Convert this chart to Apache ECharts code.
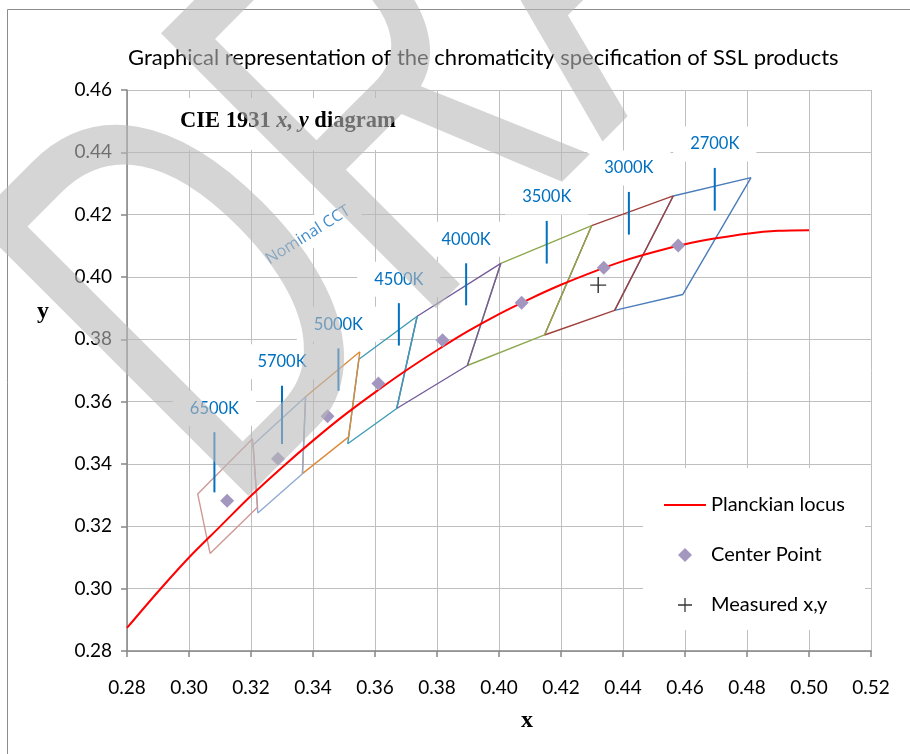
<!DOCTYPE html>
<html>
<head>
<meta charset="utf-8">
<script src="https://cdn.jsdelivr.net/npm/echarts@6/dist/echarts.min.js"></script>
<style>
html,body{margin:0;padding:0;background:#fff;}
#chart{width:910px;height:754px;}
</style>
</head>
<body>
<div id="chart"></div>
<script>
// ---- data ----
const planckX = [0.28,0.29,0.30,0.31,0.32,0.33,0.34,0.35,0.36,0.37,0.38,0.39,0.40,0.41,0.42,0.43,0.44,0.45,0.46,0.47,0.48,0.49,0.50];
const planckY = [0.2874,0.2990,0.3100,0.3199,0.3298,0.3389,0.3475,0.3556,0.3630,0.3700,0.3765,0.3826,0.3881,0.3930,0.3975,0.4015,0.4051,0.4080,0.4105,0.4124,0.4139,0.4148,0.4150];

const cctNames = ['2700K','3000K','3500K','4000K','4500K','5000K','5700K','6500K'];
const quad2700 = [[0.4813,0.4319],[0.4562,0.4260],[0.4373,0.3893],[0.4593,0.3944]];
const quad3000 = [[0.4562,0.4260],[0.4299,0.4165],[0.4147,0.3814],[0.4373,0.3893]];
const quad3500 = [[0.4299,0.4165],[0.4006,0.4044],[0.3898,0.3716],[0.4147,0.3814]];
const quad4000 = [[0.4006,0.4044],[0.3736,0.3874],[0.3670,0.3578],[0.3898,0.3716]];
const quad4500 = [[0.3736,0.3874],[0.3548,0.3736],[0.3512,0.3465],[0.3670,0.3578]];
const quad5000 = [[0.3551,0.3760],[0.3376,0.3616],[0.3366,0.3369],[0.3515,0.3487]];
const quad5700 = [[0.3376,0.3616],[0.3207,0.3462],[0.3222,0.3243],[0.3366,0.3369]];
const quad6500 = [[0.3205,0.3481],[0.3028,0.3304],[0.3068,0.3113],[0.3221,0.3261]];
const quadColors = ['#4A7DBA','#A0413D','#8DA84E','#735B9C','#3E9CB4','#DC8A3A','#8FABD4','#CF9895'];

const centerX = [0.4578,0.4338,0.4073,0.3818,0.3611,0.3447,0.3287,0.3123];
const centerY = [0.4101,0.4030,0.3917,0.3797,0.3658,0.3553,0.3417,0.3282];

const measuredX = [0.4320];
const measuredY = [0.3974];

const tickX      = [0.4696,0.4419,0.4154,0.3894,0.3677,0.3482,0.3300,0.3082];
const tickTop    = [0.4350,0.4273,0.4180,0.4044,0.3916,0.3771,0.3651,0.3502];
const tickBottom = [0.4213,0.4136,0.4043,0.3909,0.3780,0.3635,0.3464,0.3309];

const xTicks = {min:0.28, max:0.52, step:0.02};
const yTicks = {min:0.28, max:0.46, step:0.02};

// ---- chart ----
const chart = echarts.init(document.getElementById('chart'), null, {renderer:'canvas'});
const quads = [quad2700,quad3000,quad3500,quad4000,quad4500,quad5000,quad5700,quad6500];

const series = [];
quads.forEach((q,i)=>{
  series.push({
    name: cctNames[i]+' quadrangle', type:'line', data: q.concat([q[0]]),
    symbol:'none', lineStyle:{color:quadColors[i], width:1.4}, itemStyle:{color:quadColors[i]},
    z:2, silent:true
  });
});
series.push({
  name:'Planckian locus', type:'line', data: planckX.map((x,i)=>[x,planckY[i]]),
  symbol:'none', smooth:0.3, lineStyle:{color:'#FF0000', width:2}, itemStyle:{color:'#FF0000'}, z:3
});
series.push({
  name:'Center Point', type:'scatter', data: centerX.map((x,i)=>[x,centerY[i]]),
  symbol:'diamond', symbolSize:14, itemStyle:{color:'#A497BF', opacity:1}, z:4
});
series.push({
  name:'Measured x,y', type:'scatter', data: measuredX.map((x,i)=>[x,measuredY[i]]),
  symbol:'path://M9.1,0h1.8v20h-1.8z M0,9.1h20v1.8h-20z', symbolSize:16,
  itemStyle:{color:'#000'}, z:4
});
series.push({
  name:'Nominal CCT ticks', type:'custom', z:5, clip:false, silent:true,
  data: tickX.map((x,i)=>[x,tickBottom[i],tickTop[i]]),
  encode:{x:0, y:[1,2]},
  renderItem:function(params, api){
    const x = api.value(0), yb = api.value(1), yt = api.value(2);
    const p1 = api.coord([x,yb]), p2 = api.coord([x,yt]);
    return {type:'group', children:[
      {type:'text', x:p2[0], y:p2[1]-24, z2:1,
        style:{text:cctNames[params.dataIndex], fill:'#0070C0', font:'16.5px Lato',
          align:'center', verticalAlign:'middle', backgroundColor:'#fff', padding:[9,17]}},
      {type:'line', shape:{x1:p1[0],y1:p1[1],x2:p2[0],y2:p2[1]}, z2:2,
        style:{stroke:'#0070C0', lineWidth:2}}
    ]};
  }
});

const graphics = [
  {type:'rect', shape:{x:7.5, y:9.5, width:1000, height:1000}, style:{fill:'none', stroke:'#8C8C8C', lineWidth:1}, z:-10, silent:true},
  {type:'text', x:165, y:124, z:6, silent:true,
    style:{text:'{a|CIE 1931 }{b|x, y}{a| diagram}', align:'left', verticalAlign:'middle',
      backgroundColor:'#fff', padding:[12,15,17,15],
      rich:{a:{font:'bold 22.5px "Liberation Serif"', fill:'#000'}, b:{font:'italic bold 22.5px "Liberation Serif"', fill:'#000'}}}},
  {type:'text', x:308, y:235, rotation:0.56, z:6, silent:true,
    style:{text:'Nominal CCT', font:'16px "Open Sans"', fill:'#3F8CCB', align:'center', verticalAlign:'middle',
      backgroundColor:'#fff', padding:[6,8]}},
  {type:'text', x:43, y:312, z:6, silent:true,
    style:{text:'y', font:'bold 24px "Liberation Serif"', fill:'#000', align:'center', verticalAlign:'middle'}},
  {type:'text', x:116.8, y:406.8, rotation:Math.PI/4, scaleX:0.65, z:100, silent:true,
    style:{text:'DRAFT', font:'565px "Liberation Sans"', fill:'rgba(185,185,185,0.6)', align:'left', verticalAlign:'middle'}}
];

const option = {
  animation:false,
  backgroundColor:'#fff',
  title:{text:'Graphical representation of the chromaticity specification of SSL products',
    left:123, top:42, textStyle:{fontFamily:'Lato', fontSize:22, fontWeight:'normal', color:'#000'}},
  grid:{left:127, right:39, top:90, bottom:103, containLabel:false},
  xAxis:{type:'value', min:xTicks.min, max:xTicks.max, interval:xTicks.step,
    name:'x', nameLocation:'middle', nameGap:58,
    nameTextStyle:{fontFamily:'Liberation Serif', fontWeight:'bold', fontSize:24, color:'#000', padding:[0,0,0,56]},
    axisLine:{show:true, onZero:false, lineStyle:{color:'#868686', width:1.5}},
    axisTick:{show:true, length:6, lineStyle:{color:'#868686', width:1.5}},
    axisLabel:{margin:27, formatter:v=>v.toFixed(2), fontFamily:'Lato', fontSize:19, color:'#000'},
    splitLine:{show:true, lineStyle:{color:'#BFBFBF', width:1}}},
  yAxis:{type:'value', min:yTicks.min, max:yTicks.max, interval:yTicks.step,
    axisLine:{show:true, onZero:false, lineStyle:{color:'#868686', width:1.5}},
    axisTick:{show:true, length:6, lineStyle:{color:'#868686', width:1.5}},
    axisLabel:{margin:15, formatter:v=>v.toFixed(2), fontFamily:'Lato', fontSize:19, color:'#000'},
    splitLine:{show:true, lineStyle:{color:'#BFBFBF', width:1}}},
  legend:{data:[
      {name:'Planckian locus', icon:'path://M0,0h42v2h-42z'},
      {name:'Center Point', icon:'path://M7,0L14,7L7,14L0,7Z'},
      {name:'Measured x,y'}],
    orient:'vertical', left:643, top:468, itemWidth:42, itemHeight:14, itemGap:30,
    backgroundColor:'#fff', padding:[27,20,15,21], selectedMode:false,
    textStyle:{fontFamily:'Lato', fontSize:20, color:'#000'}},
  graphic: graphics,
  series: series
};
chart.setOption(option);
</script>
</body>
</html>
